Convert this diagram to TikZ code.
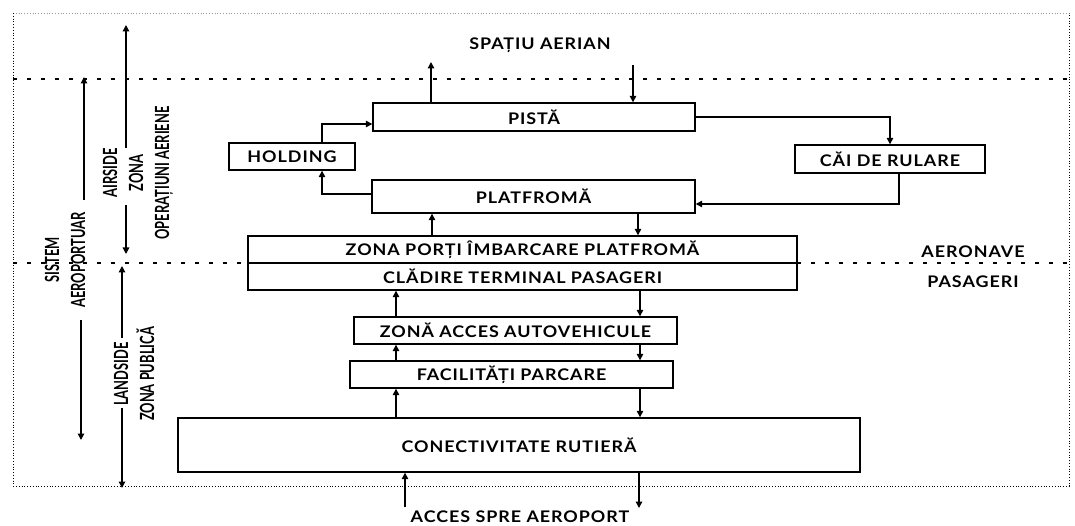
\documentclass[tikz,border=0pt]{standalone}
\usepackage{fontspec}
\usepackage{graphicx}
\setmainfont{Lato}
\usetikzlibrary{arrows.meta,calc}
\newcommand\hlbl{\fontsize{16}{19}\selectfont\bfseries\addfontfeature{FakeStretch=1.12,LetterSpace=6}}
\newcommand\vlbl{\fontsize{19.5}{26}\selectfont\bfseries}
\newcommand\cond[1]{\scalebox{0.66}[1]{#1}}
\begin{document}
\begin{tikzpicture}[x=1pt,y=-1pt,
  box/.style={draw, line width=1.4pt, inner sep=0pt, font=\hlbl},
  lbl/.style={inner sep=0pt, font=\hlbl},
  vl/.style={inner sep=0pt, font=\vlbl, rotate=90, align=center},
  arr/.style={line width=1.4pt, -{Triangle[length=6.5pt,width=6.5pt]}},
  dashln/.style={line width=2pt, dash pattern=on 4pt off 10pt},
  frameln/.style={line width=0.8pt, dotted}]
\useasboundingbox (0,0) rectangle (1075,526);
% frame
\draw[frameln, black!40] (13,13) -- (1069,13);
\draw[frameln] (13,13) -- (13,486) -- (1069,486) -- (1069,13);
% dashed separators
\draw[dashln] (13,79) -- (1069,79);
\draw[dashln] (13,263) -- (248,263);
\draw[dashln] (797,263) -- (1069,263);
% boxes
\node[box, minimum width=322, minimum height=28] (pista) at (534,117) {PISTĂ};
\node[box, minimum width=126, minimum height=27] (holding) at (292,156.5) {HOLDING};
\node[box, minimum width=190, minimum height=28] (cai) at (890,159) {CĂI DE RULARE};
\node[box, minimum width=323, minimum height=33] (platf) at (533.5,196.5) {PLATFROMĂ};
\node[box, minimum width=549, minimum height=27] (zona) at (522.5,249.5) {ZONA PORȚI ÎMBARCARE PLATFROMĂ};
\node[box, minimum width=549, minimum height=27] (cladire) at (522.5,276.5) {CLĂDIRE TERMINAL PASAGERI};
\node[box, minimum width=323, minimum height=27] (acces) at (515.5,330.5) {ZONĂ ACCES AUTOVEHICULE};
\node[box, minimum width=323, minimum height=27] (parcare) at (511.5,374.5) {FACILITĂȚI PARCARE};
\node[box, minimum width=682, minimum height=54] (conect) at (519,445) {CONECTIVITATE RUTIERĂ};
% text labels
\node[lbl] (spatiu) at (540,45) {SPAȚIU AERIAN};
\node[lbl] (accspre) at (520,517) {ACCES SPRE AEROPORT};
\node[lbl] (aeronave) at (973,252) {AERONAVE};
\node[lbl] (pasageri) at (973,282) {PASAGERI};
\node[vl] (sistem) at (65,260) {\cond{SISTEM}\\\cond{AEROPORTUAR}};
\node[vl] (airside) at (138,173) {\cond{AIRSIDE}\\\cond{ZONA}\\\cond{OPERAȚIUNI AERIENE}};
\node[vl] (landside) at (134,374) {\cond{LANDSIDE}\\\cond{ZONA PUBLICĂ}};
% column coordinates
\coordinate (cA) at (432,0);
\coordinate (cB) at (638,0);
\coordinate (cC) at (396,0);
\coordinate (cD) at (640,0);
\coordinate (hx) at (322,0);
% airside connectors
\coordinate (out1) at (431,62);
\coordinate (in1) at (633,65);
\draw[arr] (pista.north -| out1) -- (out1);
\draw[arr] (in1) -- (in1 |- pista.north);
\draw[arr] (holding.north -| hx) |- ($(pista.west)+(0,7)$);
\draw[arr] ($(platf.west)+(0,-2.5)$) -| (holding.south -| hx);
\draw[arr] (pista.east) -| (cai.north);
\draw[arr] ($(cai.south)+(9,0)$) |- ($(platf.east)+(0,7.5)$);
\draw[arr] (zona.north -| cA) -- (platf.south -| cA);
\draw[arr] (platf.south -| cB) -- (zona.north -| cB);
% landside connectors
\draw[arr] (acces.north -| cC) -- (cladire.south -| cC);
\draw[arr] (cladire.south -| cD) -- (acces.north -| cD);
\draw[arr] (parcare.north -| cC) -- (acces.south -| cC);
\draw[arr] (acces.south -| cD) -- (parcare.north -| cD);
\draw[arr] (conect.north -| cC) -- (parcare.south -| cC);
\draw[arr] (parcare.south -| cD) -- (conect.north -| cD);
\coordinate (inb) at (405,507);
\coordinate (outb) at (639,508);
\draw[arr] (inb) -- (inb |- conect.south);
\draw[arr] (conect.south -| outb) -- (outb);
% zone arrows
\coordinate (s1) at (84,200); \coordinate (s2) at (84,77);
\coordinate (s3) at (81,320); \coordinate (s4) at (81,440);
\draw[arr] (s1) -- (s2);
\draw[arr] (s3) -- (s4);
\coordinate (a1) at (126,148); \coordinate (a2) at (126,25);
\coordinate (a3) at (126,205); \coordinate (a4) at (126,254);
\draw[arr] (a1) -- (a2);
\draw[arr] (a3) -- (a4);
\coordinate (l1) at (122,338); \coordinate (l2) at (122,266);
\coordinate (l3) at (122,408); \coordinate (l4) at (122,488);
\draw[arr] (l1) -- (l2);
\draw[arr] (l3) -- (l4);
\end{tikzpicture}
\end{document}
